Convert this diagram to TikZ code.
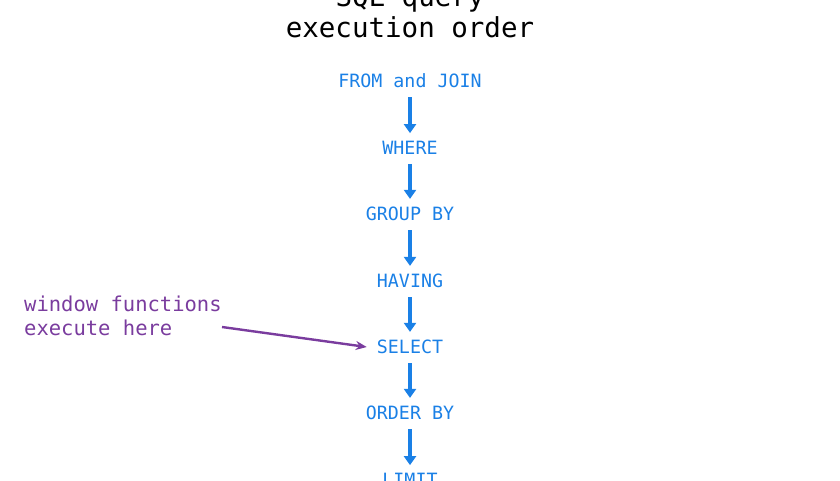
\documentclass[tikz,border=0pt]{standalone}
\usepackage{fontspec}
\setmonofont{DejaVu Sans Mono}
\usetikzlibrary{arrows.meta}
\definecolor{stepblue}{HTML}{1A80E6}
\definecolor{notepurple}{HTML}{7A3C9E}
\begin{document}
\begin{tikzpicture}[x=1pt,y=-1pt]
	\tikzset{stage/.style={font=\ttfamily\fontsize{18.3}{21}\selectfont, text=stepblue, inner sep=0pt}}
	\tikzset{flow/.style={stepblue, line width=4pt, -{Triangle[length=9pt,width=12pt]}, shorten <=9pt, shorten >=8pt}}
	\useasboundingbox (0,0) rectangle (840,480);
	\clip (0,0) rectangle (840,480);

	% title
	\node[font=\ttfamily\fontsize{27.5}{31}\selectfont, align=center] (title) at (410,12) {SQL query\\execution order};

	% stages
	\foreach \name/\txt/\y in {from/FROM and JOIN/81, where/WHERE/148, group/GROUP BY/214, having/HAVING/281, select/SELECT/347, order/ORDER BY/413, limit/LIMIT/480}
		\node[stage] (\name) at (410,\y) {\txt};
	\draw[flow] (from) -- (where);
	\draw[flow] (where) -- (group);
	\draw[flow] (group) -- (having);
	\draw[flow] (having) -- (select);
	\draw[flow] (select) -- (order);
	\draw[flow] (order) -- (limit);

	% note
	\node[font=\ttfamily\fontsize{20.5}{24}\selectfont, text=notepurple, align=left, anchor=north west, inner sep=0pt] (note) at (24,296) {window functions\\execute here};
	\coordinate (tail) at (222,327);
	\draw[notepurple, line width=2.4pt, -{Stealth[length=11pt,width=9pt]}] (tail) -- ([xshift=-10pt]select.west);
\end{tikzpicture}
\end{document}
